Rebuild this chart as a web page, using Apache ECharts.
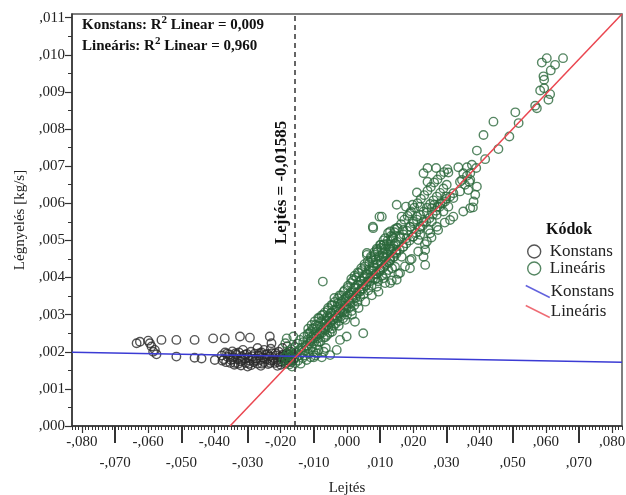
<!DOCTYPE html>
<html>
<head>
<meta charset="utf-8">
<script src="https://cdn.jsdelivr.net/npm/echarts@6/dist/echarts.min.js"></script>
<style>
  html, body { margin: 0; padding: 0; background: #ffffff; }
  #chart { width: 626px; height: 495px; }
</style>
</head>
<body>
<div id="chart"></div>
<script>
// Axis tick labels
const xTickValues = [-0.08, -0.07, -0.06, -0.05, -0.04, -0.03, -0.02, -0.01, 0, 0.01, 0.02, 0.03, 0.04, 0.05, 0.06, 0.07, 0.08];
const yTickValues = [0, 0.001, 0.002, 0.003, 0.004, 0.005, 0.006, 0.007, 0.008, 0.009, 0.010, 0.011];

// Slope (Lejtés) vs air intake (Légnyelés), constant regime
const konstansPoints = [
  [-0.0635, 0.00223], [-0.0625, 0.00227], [-0.0600, 0.00230], [-0.0595, 0.00223], [-0.0590, 0.00214],
  [-0.0585, 0.00200], [-0.0580, 0.00205], [-0.0575, 0.00193], [-0.0560, 0.00232], [-0.0515, 0.00232],
  [-0.0515, 0.00187], [-0.0460, 0.00232], [-0.0460, 0.00184], [-0.0439, 0.00182], [-0.0404, 0.00236],
  [-0.0399, 0.00178], [-0.0369, 0.00236], [-0.0323, 0.00241], [-0.0293, 0.00238], [-0.0233, 0.00241],
  [-0.0228, 0.00223],
  [-0.0378, 0.00190], [-0.0372, 0.00180], [-0.0368, 0.00198], [-0.0365, 0.00172], [-0.0360, 0.00186],
  [-0.0355, 0.00193], [-0.0350, 0.00178], [-0.0346, 0.00201], [-0.0342, 0.00185], [-0.0338, 0.00170],
  [-0.0334, 0.00192], [-0.0330, 0.00180], [-0.0326, 0.00198], [-0.0322, 0.00174], [-0.0318, 0.00188],
  [-0.0314, 0.00205], [-0.0310, 0.00182], [-0.0306, 0.00170], [-0.0302, 0.00194], [-0.0298, 0.00185],
  [-0.0294, 0.00176], [-0.0290, 0.00200], [-0.0286, 0.00188], [-0.0282, 0.00172], [-0.0278, 0.00195],
  [-0.0274, 0.00182], [-0.0270, 0.00168], [-0.0266, 0.00190], [-0.0262, 0.00178], [-0.0258, 0.00198],
  [-0.0254, 0.00185], [-0.0250, 0.00172], [-0.0246, 0.00192], [-0.0242, 0.00180], [-0.0238, 0.00167],
  [-0.0234, 0.00188], [-0.0230, 0.00176], [-0.0226, 0.00196], [-0.0222, 0.00183], [-0.0218, 0.00170],
  [-0.0214, 0.00190], [-0.0210, 0.00178], [-0.0206, 0.00200], [-0.0202, 0.00186], [-0.0198, 0.00173],
  [-0.0194, 0.00192], [-0.0190, 0.00181], [-0.0186, 0.00168], [-0.0182, 0.00196], [-0.0178, 0.00184],
  [-0.0174, 0.00175], [-0.0170, 0.00200], [-0.0166, 0.00188], [-0.0162, 0.00178],
  [-0.0340, 0.00165], [-0.0300, 0.00160], [-0.0290, 0.00164], [-0.0260, 0.00162], [-0.0250, 0.00205],
  [-0.0230, 0.00208], [-0.0210, 0.00162], [-0.0200, 0.00165], [-0.0195, 0.00210], [-0.0180, 0.00215],
  [-0.0320, 0.00163], [-0.0270, 0.00210],
  [-0.0376, 0.00176], [-0.0362, 0.00195], [-0.0352, 0.00170], [-0.0344, 0.00180], [-0.0336, 0.00196],
  [-0.0328, 0.00168], [-0.0316, 0.00178], [-0.0308, 0.00192], [-0.0296, 0.00168], [-0.0284, 0.00181],
  [-0.0276, 0.00176], [-0.0264, 0.00196], [-0.0256, 0.00168], [-0.0248, 0.00182], [-0.0240, 0.00194],
  [-0.0232, 0.00170], [-0.0224, 0.00178], [-0.0216, 0.00196], [-0.0208, 0.00172], [-0.0196, 0.00186],
  [-0.0188, 0.00176], [-0.0176, 0.00192], [-0.0168, 0.00172]
];

// Slope vs air intake, linear regime
const linearisPoints = [
  [-0.0192, 0.00178], [-0.0188, 0.00186], [-0.0186, 0.00223], [-0.0184, 0.00170], [-0.0182, 0.00236],
  [-0.0180, 0.00194], [-0.0178, 0.00181], [-0.0176, 0.00201], [-0.0174, 0.00166], [-0.0172, 0.00188],
  [-0.0170, 0.00175], [-0.0168, 0.00207], [-0.0166, 0.00160], [-0.0164, 0.00193], [-0.0162, 0.00241],
  [-0.0160, 0.00182], [-0.0158, 0.00213], [-0.0156, 0.00170], [-0.0154, 0.00198], [-0.0152, 0.00186],
  [-0.0150, 0.00222], [-0.0148, 0.00176], [-0.0146, 0.00204], [-0.0144, 0.00191], [-0.0142, 0.00232],
  [-0.0140, 0.00168], [-0.0138, 0.00210], [-0.0136, 0.00197], [-0.0134, 0.00183], [-0.0132, 0.00226],
  [-0.0130, 0.00240], [-0.0128, 0.00203], [-0.0126, 0.00190], [-0.0124, 0.00217], [-0.0122, 0.00178],
  [-0.0120, 0.00232], [-0.0118, 0.00208], [-0.0116, 0.00195], [-0.0114, 0.00250], [-0.0112, 0.00222],
  [-0.0110, 0.00185], [-0.0108, 0.00238], [-0.0106, 0.00212], [-0.0104, 0.00262], [-0.0102, 0.00200],
  [-0.0100, 0.00246], [-0.0098, 0.00228], [-0.0096, 0.00190], [-0.0094, 0.00273], [-0.0092, 0.00218],
  [-0.0090, 0.00255], [-0.0088, 0.00236], [-0.0086, 0.00205], [-0.0084, 0.00290], [-0.0082, 0.00247],
  [-0.0080, 0.00228], [-0.0078, 0.00265], [-0.0076, 0.00185], [-0.0074, 0.00252], [-0.0072, 0.00300],
  [-0.0070, 0.00238], [-0.0068, 0.00274], [-0.0066, 0.00258], [-0.0064, 0.00210], [-0.0062, 0.00283],
  [-0.0060, 0.00245], [-0.0058, 0.00312], [-0.0056, 0.00266], [-0.0054, 0.00292], [-0.0052, 0.00251],
  [-0.0051, 0.00191], [-0.0050, 0.00278], [-0.0048, 0.00305], [-0.0046, 0.00262], [-0.0044, 0.00325],
  [-0.0042, 0.00288], [-0.0040, 0.00270], [-0.0038, 0.00345], [-0.0036, 0.00298], [-0.0034, 0.00276],
  [-0.0032, 0.00314], [-0.0031, 0.00205], [-0.0030, 0.00290], [-0.0028, 0.00330], [-0.0026, 0.00302],
  [-0.0024, 0.00283], [-0.0022, 0.00352], [-0.0021, 0.00232], [-0.0020, 0.00315], [-0.0018, 0.00296],
  [-0.0016, 0.00336], [-0.0014, 0.00308], [-0.0012, 0.00290], [-0.0010, 0.00362], [-0.0008, 0.00324],
  [-0.0006, 0.00306], [-0.0004, 0.00345], [-0.0002, 0.00318], [-0.0001, 0.00241], [0.0000, 0.00300],
  [0.0002, 0.00372], [0.0004, 0.00336], [0.0006, 0.00318], [0.0008, 0.00354], [0.0010, 0.00330],
  [0.0012, 0.00385], [0.0014, 0.00310], [0.0016, 0.00346], [0.0018, 0.00392], [0.0020, 0.00360],
  [0.0022, 0.00325], [0.0024, 0.00372], [0.0026, 0.00345], [0.0028, 0.00400], [0.0030, 0.00358],
  [0.0032, 0.00335], [0.0034, 0.00381], [0.0036, 0.00412], [0.0038, 0.00364], [0.0040, 0.00348],
  [0.0042, 0.00392], [0.0044, 0.00370], [0.0046, 0.00420], [0.0048, 0.00383], [0.0050, 0.00355],
  [0.0052, 0.00402], [0.0054, 0.00430], [0.0056, 0.00378], [0.0058, 0.00410], [0.0060, 0.00466],
  [0.0062, 0.00390], [0.0064, 0.00365], [0.0066, 0.00422], [0.0068, 0.00440], [0.0070, 0.00400],
  [0.0072, 0.00456], [0.0074, 0.00378], [0.0076, 0.00418], [0.0078, 0.00537], [0.0080, 0.00432],
  [0.0082, 0.00468], [0.0084, 0.00395], [0.0086, 0.00448], [0.0088, 0.00410], [0.0090, 0.00478],
  [0.0092, 0.00436], [0.0094, 0.00390], [0.0096, 0.00455], [0.0098, 0.00564], [0.0100, 0.00422],
  [0.0102, 0.00488], [0.0104, 0.00440], [0.0106, 0.00405], [0.0108, 0.00465], [0.0110, 0.00500],
  [0.0112, 0.00430], [0.0114, 0.00476], [0.0116, 0.00452], [0.0118, 0.00410], [0.0120, 0.00490],
  [0.0122, 0.00462], [0.0124, 0.00520], [0.0126, 0.00440], [0.0128, 0.00478], [0.0130, 0.00452],
  [0.0132, 0.00498], [0.0134, 0.00470], [0.0136, 0.00425], [0.0138, 0.00510], [0.0140, 0.00478],
  [0.0142, 0.00455], [0.0144, 0.00530], [0.0146, 0.00492], [0.0148, 0.00468],
  [-0.0073, 0.00389], [0.0060, 0.00461], [0.0100, 0.00488], [0.0115, 0.00385], [0.0090, 0.00375],
  [0.0024, 0.00281], [0.0049, 0.00250], [-0.0090, 0.00195], [-0.0070, 0.00200], [-0.0100, 0.00185],
  [-0.0121, 0.00215], [-0.0119, 0.00248], [-0.0117, 0.00262], [-0.0111, 0.00228], [-0.0109, 0.00255],
  [-0.0107, 0.00272], [-0.0101, 0.00236], [-0.0099, 0.00264], [-0.0097, 0.00282], [-0.0091, 0.00242],
  [-0.0089, 0.00270], [-0.0087, 0.00291], [-0.0085, 0.00226], [-0.0081, 0.00252], [-0.0079, 0.00281],
  [-0.0077, 0.00298], [-0.0071, 0.00262], [-0.0069, 0.00288], [-0.0067, 0.00306], [-0.0065, 0.00240],
  [-0.0061, 0.00270], [-0.0059, 0.00296], [-0.0057, 0.00318], [-0.0051, 0.00280], [-0.0049, 0.00304],
  [-0.0047, 0.00326], [-0.0045, 0.00254], [-0.0041, 0.00287], [-0.0039, 0.00312], [-0.0037, 0.00334],
  [-0.0031, 0.00296], [-0.0029, 0.00320], [-0.0027, 0.00344], [-0.0025, 0.00270], [-0.0021, 0.00306],
  [-0.0019, 0.00330], [-0.0017, 0.00352], [-0.0011, 0.00314], [-0.0009, 0.00340], [-0.0007, 0.00366],
  [-0.0005, 0.00286], [-0.0001, 0.00324], [0.0001, 0.00350], [0.0003, 0.00378], [0.0009, 0.00334],
  [0.0011, 0.00360], [0.0013, 0.00396], [0.0015, 0.00300], [0.0019, 0.00342], [0.0021, 0.00372],
  [0.0023, 0.00405], [0.0029, 0.00352], [0.0031, 0.00380], [0.0033, 0.00414], [0.0035, 0.00318],
  [0.0039, 0.00362], [0.0041, 0.00390], [0.0043, 0.00425], [0.0049, 0.00370], [0.0051, 0.00398],
  [0.0053, 0.00436], [0.0055, 0.00335], [0.0059, 0.00380], [0.0061, 0.00408], [0.0063, 0.00444],
  [0.0069, 0.00390], [0.0071, 0.00418], [0.0073, 0.00452], [0.0075, 0.00352], [0.0079, 0.00398],
  [0.0081, 0.00426], [0.0083, 0.00462], [0.0089, 0.00408], [0.0091, 0.00436], [0.0093, 0.00470],
  [0.0095, 0.00362], [0.0099, 0.00416], [0.0101, 0.00446], [0.0103, 0.00480], [0.0109, 0.00426],
  [0.0111, 0.00456], [0.0113, 0.00490], [0.0119, 0.00436], [0.0121, 0.00466], [0.0123, 0.00500],
  [0.0129, 0.00445], [0.0131, 0.00476], [0.0133, 0.00512], [0.0135, 0.00392], [0.0139, 0.00455],
  [0.0141, 0.00486], [0.0143, 0.00522], [0.0149, 0.00464], [0.0151, 0.00496], [0.0153, 0.00534],
  [0.0155, 0.00410], [0.0159, 0.00474], [0.0161, 0.00506], [0.0163, 0.00544], [0.0169, 0.00482],
  [0.0171, 0.00516], [0.0173, 0.00556], [0.0175, 0.00430], [0.0179, 0.00492], [0.0181, 0.00526],
  [0.0183, 0.00566], [0.0189, 0.00500], [0.0191, 0.00536], [0.0193, 0.00578], [0.0195, 0.00450],
  [0.0199, 0.00510], [0.0201, 0.00546], [0.0203, 0.00588], [0.0209, 0.00520], [0.0211, 0.00556],
  [0.0213, 0.00600], [0.0215, 0.00470], [0.0219, 0.00530], [0.0221, 0.00568], [0.0223, 0.00612],
  [0.0229, 0.00540], [0.0231, 0.00578], [0.0233, 0.00622], [0.0235, 0.00490], [0.0239, 0.00550],
  [0.0241, 0.00588], [0.0243, 0.00634], [0.0249, 0.00560], [0.0251, 0.00598], [0.0253, 0.00644],
  [0.0255, 0.00508], [0.0259, 0.00570], [0.0261, 0.00608], [0.0263, 0.00656], [0.0269, 0.00580],
  [0.0271, 0.00618], [0.0273, 0.00664], [0.0275, 0.00528], [0.0279, 0.00590], [0.0281, 0.00628],
  [0.0283, 0.00676], [0.0289, 0.00600], [0.0291, 0.00640], [0.0293, 0.00684], [0.0295, 0.00548],
  [0.0299, 0.00612], [0.0301, 0.00650], [0.0303, 0.00692],
  [0.0231, 0.00681], [0.0243, 0.00695], [0.0269, 0.00695], [0.0243, 0.00658], [0.0306, 0.00683],
  [0.0336, 0.00697], [0.0362, 0.00697], [0.0390, 0.00695], [0.0392, 0.00742], [0.0417, 0.00719],
  [0.0351, 0.00681], [0.0372, 0.00681], [0.0341, 0.00658], [0.0369, 0.00658], [0.0392, 0.00645],
  [0.0366, 0.00636], [0.0321, 0.00627], [0.0341, 0.00632], [0.0387, 0.00623], [0.0382, 0.00605],
  [0.0372, 0.00587], [0.0351, 0.00578], [0.0311, 0.00618], [0.0296, 0.00605], [0.0281, 0.00600],
  [0.0306, 0.00591], [0.0211, 0.00629], [0.0150, 0.00596], [0.0178, 0.00591], [0.0198, 0.00596],
  [0.0221, 0.00591], [0.0256, 0.00587], [0.0263, 0.00596], [0.0241, 0.00575], [0.0271, 0.00569],
  [0.0311, 0.00555], [0.0321, 0.00564], [0.0105, 0.00564], [0.0079, 0.00533], [0.0190, 0.00573],
  [0.0165, 0.00564], [0.0211, 0.00564], [0.0200, 0.00551], [0.0231, 0.00551], [0.0256, 0.00551],
  [0.0271, 0.00537], [0.0246, 0.00528], [0.0221, 0.00537], [0.0190, 0.00537], [0.0170, 0.00528],
  [0.0150, 0.00533], [0.0130, 0.00524], [0.0140, 0.00506], [0.0115, 0.00506], [0.0160, 0.00510],
  [0.0180, 0.00506], [0.0200, 0.00510], [0.0221, 0.00515], [0.0215, 0.00501], [0.0241, 0.00497],
  [0.0251, 0.00519], [0.0236, 0.00474], [0.0231, 0.00456], [0.0236, 0.00434], [0.0190, 0.00447],
  [0.0190, 0.00425], [0.0165, 0.00456], [0.0150, 0.00474], [0.0170, 0.00483], [0.0130, 0.00483],
  [0.0110, 0.00488], [0.0090, 0.00474], [0.0110, 0.00456], [0.0079, 0.00447], [0.0130, 0.00447],
  [0.0145, 0.00429], [0.0125, 0.00420], [0.0100, 0.00420], [0.0079, 0.00420], [0.0160, 0.00412],
  [0.0150, 0.00394], [0.0110, 0.00398], [0.0090, 0.00398], [0.0130, 0.00385],
  [0.0508, 0.00845], [0.0518, 0.00816], [0.0442, 0.00820], [0.0412, 0.00784], [0.0490, 0.00780],
  [0.0457, 0.00746], [0.0377, 0.00704], [0.0362, 0.00674], [0.0347, 0.00663], [0.0372, 0.00663],
  [0.0356, 0.00650], [0.0380, 0.00589], [0.0321, 0.00614], [0.0299, 0.00618], [0.0273, 0.00591],
  [0.0291, 0.00578],
  [0.0568, 0.00863], [0.0573, 0.00856], [0.0583, 0.00904], [0.0595, 0.00910], [0.0608, 0.00879],
  [0.0613, 0.00894], [0.0593, 0.00942], [0.0595, 0.00933], [0.0615, 0.00958], [0.0628, 0.00973],
  [0.0588, 0.00979], [0.0603, 0.00991], [0.0652, 0.00991]
];

// Fitted regression lines (end points within the plot range)
const konstansFitLine = [[-0.083, 0.00199], [0.083, 0.00172]];
const linearisFitLine = [[-0.0353, 0], [0.083, 0.0111]];

// Breakpoint between the two regimes
const breakPoint = -0.01585;
const breakLabel = 'Lejtés = -0,01585';

// Goodness of fit
const r2Konstans = '0,009';
const r2Linearis = '0,960';

const xMin = -0.083, xMax = 0.083, yMin = 0, yMax = 0.0111;

const FONT = '"Liberation Serif", "Times New Roman", serif';
const INK = '#222222';
const AXIS = '#333333';
const BLACK_MARK = '#2a2a2a';
const GREEN_MARK = '#2a683b';
const BLUE = '#3b3bd4';
const RED = '#ea4650';

// Decimal comma, no leading zero: -0.08 -> "-,080"
function fmt(v) {
  const s = Math.abs(v).toFixed(3).slice(1).replace('.', ',');
  return (v < -1e-9 ? '-' : '') + s;
}

// Fine tick positions along the axes
const xFineTicks = [];
for (let i = -83; i <= 83; i++) xFineTicks.push(i / 1000);
const xOddTicks = xTickValues.filter(v => Math.abs(Math.round(v * 100)) % 2 === 1);
const xEvenTicks = xTickValues.filter(v => Math.abs(Math.round(v * 100)) % 2 === 0);
const yHalfTicks = [];
for (let i = 0; i < 11; i++) yHalfTicks.push((i + 0.5) / 1000);

const chart = echarts.init(document.getElementById('chart'), null, { renderer: 'canvas' });

const baseX = { type: 'value', min: xMin, max: xMax, position: 'bottom', splitLine: { show: false } };
const baseY = { type: 'value', min: yMin, max: yMax, position: 'left', splitLine: { show: false } };

const option = {
  animation: false,
  backgroundColor: '#ffffff',
  textStyle: { fontFamily: FONT },
  grid: {
    left: 72, right: 4, top: 14, bottom: 69, show: true,
    borderColor: '#555555', borderWidth: 1.5, containLabel: false, outerBoundsMode: 'none'
  },
  title: [
    {
      left: 77, top: 10,
      text: '{b|Konstans: R}{s|2}{b| Linear = ' + r2Konstans + '}\n{b|Lineáris: R}{s|2}{b| Linear = ' + r2Linearis + '}',
      textStyle: {
        rich: {
          b: { fontFamily: FONT, fontWeight: 'bold', fontSize: 15, color: '#111', lineHeight: 21 },
          s: { fontFamily: FONT, fontWeight: 'bold', fontSize: 11, color: '#111', verticalAlign: 'top', lineHeight: 15 }
        }
      }
    },
    {
      left: 541, top: 217, text: 'Kódok',
      textStyle: { fontFamily: FONT, fontWeight: 'bold', fontSize: 16, color: '#111' }
    }
  ],
  legend: [
    {
      orient: 'vertical', left: 522, top: 238, itemWidth: 13, itemHeight: 13, itemGap: 0,
      selectedMode: false,
      textStyle: { fontFamily: FONT, fontSize: 17, color: INK, padding: [0, 0, 0, 4] },
      data: [
        { name: 'Konstans', icon: 'circle', itemStyle: { color: 'rgba(0,0,0,0)', borderColor: BLACK_MARK, borderWidth: 1.4 } },
        { name: 'Lineáris', icon: 'circle', itemStyle: { color: 'rgba(0,0,0,0)', borderColor: GREEN_MARK, borderWidth: 1.4 } }
      ]
    },
    {
      orient: 'vertical', left: 520, top: 278, itemWidth: 24, itemHeight: 12, itemGap: 3,
      selectedMode: false,
      textStyle: { fontFamily: FONT, fontSize: 17, color: INK, padding: [0, 0, 0, -4] },
      data: [
        { name: 'Konstans', icon: 'path://M0,0L24,12', itemStyle: { color: 'rgba(0,0,0,0)', borderColor: BLUE, borderWidth: 1.5 } },
        { name: 'Lineáris', icon: 'path://M0,0L24,12', itemStyle: { color: 'rgba(0,0,0,0)', borderColor: RED, borderWidth: 1.5 } }
      ]
    }
  ],
  xAxis: [
    Object.assign({}, baseX, {
      name: 'Lejtés', nameLocation: 'middle', nameGap: 55,
      nameTextStyle: { fontFamily: FONT, fontSize: 15, color: INK },
      axisLine: { onZero: false, lineStyle: { color: AXIS, width: 1.5 } },
      axisTick: { customValues: xFineTicks, length: 4, lineStyle: { color: AXIS, width: 1 } },
      axisLabel: {
        customValues: xTickValues, margin: 6, lineHeight: 21,
        fontFamily: FONT, fontSize: 15, color: INK,
        formatter: v => (Math.abs(Math.round(v * 100)) % 2 === 1 ? '\n' : '') + fmt(v)
      }
    }),
    Object.assign({}, baseX, {
      axisLine: { show: false, onZero: false }, axisLabel: { show: false },
      axisTick: { customValues: xOddTicks, length: 17, lineStyle: { color: AXIS, width: 2 } }
    }),
    Object.assign({}, baseX, {
      axisLine: { show: false, onZero: false }, axisLabel: { show: false },
      axisTick: { customValues: xEvenTicks, length: 7, lineStyle: { color: AXIS, width: 1.2 } }
    })
  ],
  yAxis: [
    Object.assign({}, baseY, {
      name: 'Légnyelés [kg/s]', nameLocation: 'middle', nameGap: 43,
      nameTextStyle: { fontFamily: FONT, fontSize: 15, color: INK },
      axisLine: { onZero: false, lineStyle: { color: AXIS, width: 1.5 } },
      axisTick: { customValues: yTickValues, length: 7, lineStyle: { color: AXIS, width: 1.2 } },
      axisLabel: { customValues: yTickValues, margin: 7, fontFamily: FONT, fontSize: 15, color: INK, formatter: fmt }
    }),
    Object.assign({}, baseY, {
      axisLine: { show: false, onZero: false }, axisLabel: { show: false },
      axisTick: { customValues: yHalfTicks, length: 4, lineStyle: { color: AXIS, width: 1 } }
    })
  ],
  series: [
    {
      name: 'Konstans', type: 'scatter', data: konstansPoints,
      symbol: 'circle', symbolSize: 8.5,
      itemStyle: { color: 'rgba(0,0,0,0)', borderColor: BLACK_MARK, borderWidth: 1.4 },
      markLine: {
        silent: true, symbol: 'none', animation: false, precision: 6,
        lineStyle: { type: [5, 4], color: AXIS, width: 1.5 },
        label: { show: false },
        data: [{ xAxis: breakPoint }]
      }
    },
    {
      name: 'Lineáris', type: 'scatter', data: linearisPoints,
      symbol: 'circle', symbolSize: 8.5,
      itemStyle: { color: 'rgba(0,0,0,0)', borderColor: GREEN_MARK, borderWidth: 1.4 }
    },
    {
      name: 'Konstans', type: 'line', data: konstansFitLine, symbol: 'none',
      lineStyle: { color: BLUE, width: 1.5 }, itemStyle: { color: BLUE }, z: 3
    },
    {
      name: 'Lineáris', type: 'line', data: linearisFitLine, symbol: 'none',
      lineStyle: { color: RED, width: 1.5 }, itemStyle: { color: RED }, z: 3
    }
  ]
};

chart.setOption(option);

// Rotated breakpoint label placed beside the dashed line
const anchor = chart.convertToPixel({ xAxisIndex: 0, yAxisIndex: 0 }, [breakPoint, 0.0049]);
chart.setOption({
  graphic: [{
    type: 'text', x: anchor[0] - 13, y: anchor[1], rotation: Math.PI / 2,
    style: {
      text: breakLabel, fontFamily: FONT, fontWeight: 'bold', fontSize: 17, fill: '#111',
      align: 'left', verticalAlign: 'middle'
    }
  }]
});
</script>
</body>
</html>
